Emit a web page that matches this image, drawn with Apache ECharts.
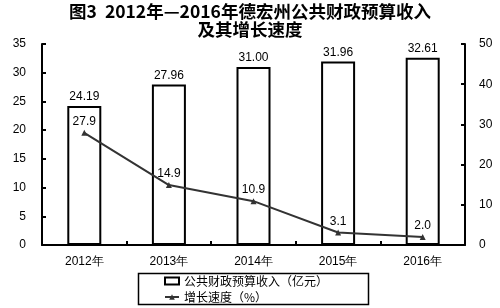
<!DOCTYPE html>
<html><head><meta charset="utf-8">
<script src="https://cdn.jsdelivr.net/npm/echarts@6/dist/echarts.min.js"></script>
<style>html,body{margin:0;padding:0;background:#fff}#c{width:500px;height:308px}</style>
</head><body><div id="c"></div>
<script>
const titleText = '图3  2012年—2016年德宏州公共财政预算收入\n及其增长速度';
const categories = ['2012年','2013年','2014年','2015年','2016年'];
const revenue = [24.19, 27.96, 31.00, 31.96, 32.61];
const growth = [27.9, 14.9, 10.9, 3.1, 2.0];
const revenueName = '公共财政预算收入（亿元）';
const growthName = '增长速度（%）';
const leftTicks = {min:0, max:35, interval:5};
const rightTicks = {min:0, max:50, interval:10};

const chart = echarts.init(document.getElementById('c'));
const font = 'Liberation Sans, Arial, sans-serif';
chart.setOption({
  animation:false,
  backgroundColor:'#fff',
  title:{text:titleText, left:'center', top:0, itemGap:0, padding:[2,5,2,5],
    textStyle:{fontSize:17.5, fontWeight:'bold', color:'#000', lineHeight:18, fontFamily:'Noto Sans CJK SC, sans-serif'}},
  graphic:{elements:[{type:'rect', shape:{x:138.5, y:273.5, width:230, height:31},
    style:{fill:'transparent', stroke:'#000', lineWidth:1.5}, z:10, silent:true}]},
  legend:{orient:'vertical', left:164, top:274, itemGap:2, itemWidth:14, itemHeight:7,
    padding:0,
    textStyle:{fontSize:12, lineHeight:14, color:'#000', fontFamily:'Noto Sans CJK SC, sans-serif'},
    data:[{name:revenueName, icon:'rect'}, {name:growthName}]},
  grid:{left:42, right:35, top:44, bottom:63, containLabel:false},
  xAxis:{type:'category', data:categories,
    axisLine:{lineStyle:{color:'#000', width:2}},
    axisTick:{show:true, inside:true, length:4, lineStyle:{color:'#000', width:2}},
    axisLabel:{color:'#000', fontSize:12, fontFamily:font, margin:11}},
  yAxis:[
    {type:'value', min:leftTicks.min, max:leftTicks.max, interval:leftTicks.interval,
     axisLine:{show:true, lineStyle:{color:'#000', width:2}},
     axisTick:{show:true, inside:true, length:4, lineStyle:{color:'#000', width:2}},
     splitLine:{show:false},
     axisLabel:{color:'#000', fontSize:12, fontFamily:font, margin:16}},
    {type:'value', min:rightTicks.min, max:rightTicks.max, interval:rightTicks.interval, position:'right',
     axisLine:{show:true, lineStyle:{color:'#000', width:2}},
     axisTick:{show:true, inside:true, length:4, lineStyle:{color:'#000', width:2}},
     splitLine:{show:false},
     axisLabel:{color:'#000', fontSize:12, fontFamily:font, margin:14}}
  ],
  series:[
    {name:revenueName, type:'bar', data:revenue, barWidth:34, yAxisIndex:0,
     itemStyle:{color:'#fff', borderColor:'#000', borderWidth:2},
     label:{show:true, position:'top', color:'#000', fontSize:12, fontFamily:font, distance:3,
       formatter:p=>p.value.toFixed(2)}},
    {name:growthName, type:'line', data:growth, yAxisIndex:1,
     symbol:'triangle', symbolSize:6,
     lineStyle:{color:'#333', width:2}, itemStyle:{color:'#333'},
     label:{show:true, position:'top', color:'#000', fontSize:12, fontFamily:font, distance:2,
       formatter:p=>p.value.toFixed(1)}}
  ]
});
</script></body></html>
